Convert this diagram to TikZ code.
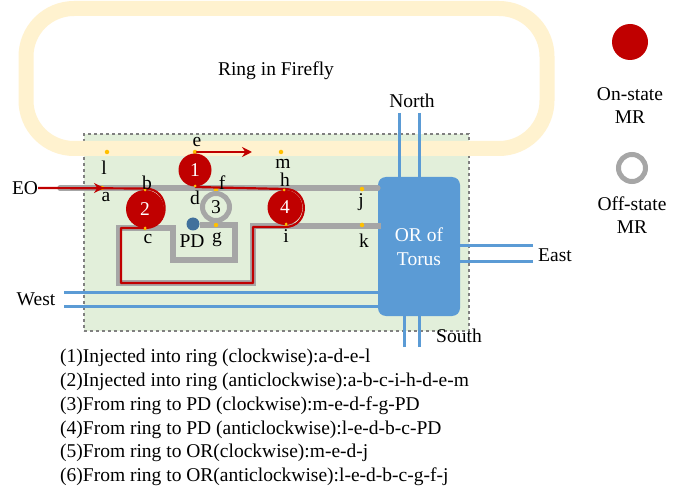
\documentclass[tikz,border=0pt]{standalone}
\usepackage{fontspec}
\setmainfont{Liberation Serif}
\usetikzlibrary{arrows.meta}
\definecolor{ringc}{RGB}{255,242,207}
\definecolor{panel}{RGB}{226,239,218}
\definecolor{wg}{RGB}{166,166,166}
\definecolor{mr}{RGB}{192,0,0}
\definecolor{blu}{RGB}{91,155,213}
\definecolor{pdc}{RGB}{65,113,156}
\definecolor{dotc}{RGB}{255,192,0}
\tikzset{
 lbl/.style={font=\fontsize{19.5}{23.5}\selectfont,text=black,inner sep=0pt,align=center},
 wave/.style={draw=wg,line width=5.5pt,line join=miter},
 redpath/.style={draw=mr,line width=2.2pt,line join=round},
 lnk/.style={draw=blu,line width=3pt},
 mron/.style={circle,fill=mr,inner sep=0pt,text=white,font=\fontsize{19.5}{20}\selectfont},
 mroff/.style={circle,draw=wg,line width=5pt,inner sep=0pt,font=\fontsize{19.5}{20}\selectfont},
 pt/.style={circle,fill=dotc,minimum size=4.5pt,inner sep=0pt},
 listitem/.style={font=\fontsize{19.5}{20}\selectfont,anchor=west,inner sep=0pt},
 arr/.style={draw=mr,line width=2.2pt,-{Stealth[length=10pt,width=10pt]}}
}
\begin{document}
\begin{tikzpicture}[x=1pt,y=-1pt]
\useasboundingbox (0,0) rectangle (689,492);
\fill[white] (0,0) rectangle (689,492);
% panel
\node[draw=gray,dashed,line width=1.2pt,fill=panel,minimum width=385pt,minimum height=197pt,inner sep=0pt] (panelbox) at (276.5,232.5) {};
% ring
\draw[ringc,line width=15pt,rounded corners=48pt] (26,8.5) rectangle (547,148.5);
\node[lbl] (ringl) at (276,71) {Ring in Firefly};
% OR box
\node[fill=blu,rounded corners=8pt,minimum width=82pt,minimum height=139pt,inner sep=0pt,text=white,align=center,font=\fontsize{19.5}{24}\selectfont] (or) at (419,246.5) {OR of\\Torus};
% blue links
\coordinate (n1) at (399,113); \coordinate (n2) at (419,113);
\coordinate (s1) at (404,347); \coordinate (s2) at (419,347);
\coordinate (e1) at (533,246); \coordinate (e2) at (533,262);
\coordinate (w1) at (64,292); \coordinate (w2) at (64,306);
\draw[lnk] (n1) -- (n1|-or.north);
\draw[lnk] (n2) -- (n2|-or.north);
\draw[lnk] (s1) -- (s1|-or.south);
\draw[lnk] (s2) -- (s2|-or.south);
\draw[lnk] (e1) -- (e1-|or.east);
\draw[lnk] (e2) -- (e2-|or.east);
\draw[lnk] (w1) -- (w1-|or.west);
\draw[lnk] (w2) -- (w2-|or.west);
% points on the waveguides
\node[pt] (l) at (107,152) {};
\node[pt] (e) at (195,152) {};
\node[pt] (m) at (281,152) {};
\node[pt] (a) at (102,188) {};
\node[pt] (b) at (145,190) {};
\node[pt] (d) at (195,186) {};
\node[pt] (f) at (216,190) {};
\node[pt] (g) at (216,225) {};
\node[pt] (c) at (145,228) {};
\node[pt] (h) at (284,190) {};
\node[pt] (i) at (286,224) {};
\node[pt] (j) at (362,189) {};
\node[pt] (k) at (362,225) {};
% waveguides
\coordinate (wstart) at (60,188);
\coordinate (c1) at (119,228); \coordinate (c2) at (173,228);
\coordinate (c3) at (173,260); \coordinate (c4) at (235,260);
\coordinate (c5) at (235,225);
\coordinate (c6) at (119,283); \coordinate (c7) at (253,283);
\coordinate (c8) at (253,226);
\coordinate (arrowA) at (104,188);
\coordinate (arrowE) at (252,152);
\draw[wave,line cap=round] (wstart) -- (wstart-|or.west);
\draw[wave] (c6) -- (c1) -- (c2) -- (c3) -- (c4) -- (c5) -- (200,225);
\draw[wave,line cap=rect] (c6) -- (c7) -- (c8) -- (c8-|or.west);
% redraw points over the grey
\foreach \p in {a,b,f,g,c,h,i,j,k} {\node[pt] at (\p) {};}
% microrings
\node[mron,minimum size=33pt] (m1) at (195,170) {1};
\node[mron,minimum size=38pt] (m2) at (145,209) {2};
\node[mroff,minimum size=27pt] (m3) at (216,207) {3};
\node[mron,minimum size=35pt] (m4) at (285,207.5) {4};
\node[circle,fill=pdc,minimum size=13pt,inner sep=0pt] (pd) at (193,224) {};
% red route
\node[lbl,anchor=center] (eo) at (25,188) {EO};
\draw[redpath] (eo.east) -- (145,188.5) to[out=0,in=0,looseness=1.7] (145,228) -- (121,228) -- (121,283) -- (253,283) -- (253,227) -- (285,227) to[out=0,in=0,looseness=1.7] (285,189) -- (195,187) ;
\draw[arr] (eo.east) -- (arrowA);
\draw[arr] (e.center) -- (arrowE);
% redraw small dots above red
\foreach \p in {b,c,h,i,d,e} {\node[pt,minimum size=3pt] at (\p) {};}
% labels
\node[lbl] (te) at (197,142) {e};
\node[lbl] (tl) at (104,168) {l};
\node[lbl] (tm) at (283,164) {m};
\node[lbl] (tb) at (147,183) {b};
\node[lbl] (ta) at (106,197) {a};
\node[lbl] (td) at (195,198) {d};
\node[lbl] (tf) at (222,183) {f};
\node[lbl] (th) at (285,180) {h};
\node[lbl] (tc) at (148,239) {c};
\node[lbl] (tg) at (217,240) {g};
\node[lbl] (tpd) at (192,241) {PD};
\node[lbl] (ti) at (286,236) {i};
\node[lbl] (tj) at (361,202) {j};
\node[lbl] (tk) at (364,241) {k};
\node[lbl] (north) at (412,101) {North};
\node[lbl] (south) at (459,336) {South};
\node[lbl] (east) at (555,255) {East};
\node[lbl] (west) at (36,299) {West};
% legend
\node[circle,fill=mr,minimum size=36pt,inner sep=0pt] (lon) at (630,42) {};
\node[lbl] (lont) at (630,105.5) {On-state\\MR};
\node[mroff,minimum size=27pt] (loff) at (632,168) {};
\node[lbl] (lofft) at (632,215) {Off-state\\MR};
% list
\node[listitem] (it1) at (60,358) {(1)Injected into ring (clockwise):a-d-e-l};
\node[listitem] (it2) at (60,382) {(2)Injected into ring (anticlockwise):a-b-c-i-h-d-e-m};
\node[listitem] (it3) at (60,406) {(3)From ring to PD (clockwise):m-e-d-f-g-PD};
\node[listitem] (it4) at (60,430) {(4)From ring to PD (anticlockwise):l-e-d-b-c-PD};
\node[listitem] (it5) at (60,453) {(5)From ring to OR(clockwise):m-e-d-j};
\node[listitem] (it6) at (60,477) {(6)From ring to OR(anticlockwise):l-e-d-b-c-g-f-j};
\end{tikzpicture}
\end{document}
